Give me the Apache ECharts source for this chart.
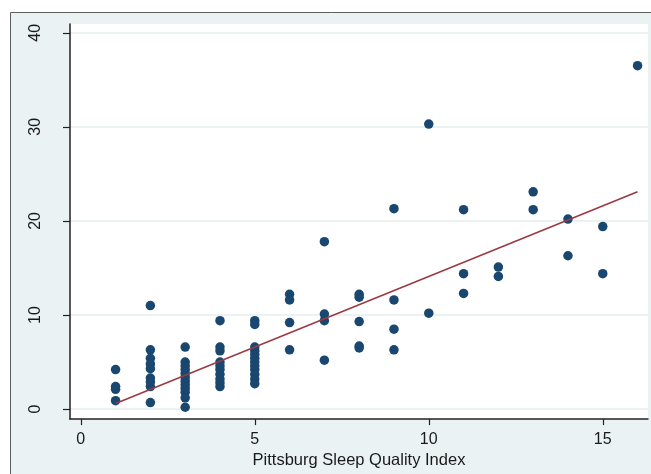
<!DOCTYPE html>
<html>
<head>
<meta charset="utf-8">
<script src="https://cdn.jsdelivr.net/npm/echarts@6/dist/echarts.min.js"></script>
<style>
html,body{margin:0;padding:0;background:#fff;}
#c{width:651px;height:474px;}
</style>
</head>
<body>
<div id="c"></div>
<script>
// PSQI score (x) and outcome (y) for each observed point
const pointsX = [
  1,1,1,1,
  2,2,2,2,2,2,2,2,2,
  3,3,3,3,3,3,3,3,3,3,3,3,
  4,4,4,4,4,4,4,4,4,4,
  5,5,5,5,5,5,5,5,5,5,5,5,
  6,6,6,6,
  7,7,7,7,
  8,8,8,8,8,
  9,9,9,9,
  10,10,
  11,11,11,
  12,12,
  13,13,
  14,14,
  15,15,
  16
];
const pointsY = [
  4.2,2.4,2.1,0.9,
  11.0,6.3,5.4,4.8,4.3,3.3,2.9,2.4,0.7,
  6.6,5.0,4.6,4.2,3.8,3.4,3.0,2.6,2.2,1.8,1.2,0.2,
  9.4,6.6,6.2,5.0,4.6,4.2,3.7,3.2,2.8,2.4,
  9.4,9.0,6.6,6.2,5.8,5.4,5.0,4.6,4.2,3.7,3.2,2.7,
  12.2,11.6,9.2,6.3,
  17.8,10.1,9.4,5.2,
  12.2,11.9,9.3,6.7,6.5,
  21.3,11.6,8.5,6.3,
  30.3,10.2,
  21.2,14.4,12.3,
  15.1,14.1,
  23.1,21.2,
  20.2,16.3,
  19.4,14.4,
  36.5
];
// fitted line endpoints
const fitX = [1, 16];
const fitY = [0.6, 23.1];
const xTicks = [0, 5, 10, 15];
const yTicks = [0, 10, 20, 30, 40];
const xTitle = 'Pittsburg Sleep Quality Index';

const scatterData = pointsX.map((x, i) => [x, pointsY[i]]);
const lineData = fitX.map((x, i) => [x, fitY[i]]);

const chart = echarts.init(document.getElementById('c'), null, {renderer: 'canvas'});
chart.setOption({
  backgroundColor: '#ffffff',
  animation: false,
  graphic: [{
    type: 'rect',
    z: -10,
    silent: true,
    shape: {x: 10.5, y: 12.5, width: 660, height: 480},
    style: {fill: '#eaf2f3', stroke: '#5e5e5e', lineWidth: 1}
  }],
  grid: {
    left: 70, right: 3, top: 24, bottom: 54,
    show: true, backgroundColor: '#ffffff', borderWidth: 0
  },
  xAxis: {
    type: 'value',
    min: -0.31, max: 16.3,
    interval: 5,
    name: xTitle,
    nameLocation: 'middle',
    nameGap: 30,
    nameTextStyle: {fontFamily: 'Liberation Sans', fontSize: 16.5, color: '#1a1a1a'},
    axisLine: {show: true, onZero: false, lineStyle: {color: '#222', width: 1.5}},
    axisTick: {show: true, length: 6, lineStyle: {color: '#222', width: 1.2},
      customValues: xTicks},
    axisLabel: {fontFamily: 'Liberation Sans', fontSize: 16, color: '#1a1a1a', margin: 12,
      customValues: xTicks},
    splitLine: {show: false}
  },
  yAxis: {
    type: 'value',
    min: -1.06, max: 40.93,
    name: '',
    axisLine: {show: true, onZero: false, lineStyle: {color: '#222', width: 1.5}},
    axisTick: {show: true, length: 7, lineStyle: {color: '#222', width: 1.2},
      customValues: yTicks},
    axisLabel: {fontFamily: 'Liberation Sans', fontSize: 16, color: '#1a1a1a', rotate: 90, margin: 26,
      customValues: yTicks},
    splitLine: {show: true, lineStyle: {color: '#e3eef1', width: 1.5},
      customValues: yTicks}
  },
  series: [
    {
      type: 'scatter',
      data: scatterData,
      symbol: 'circle',
      symbolSize: 9.5,
      itemStyle: {color: '#1a476f', opacity: 1},
      z: 3
    },
    {
      type: 'line',
      data: lineData,
      symbol: 'none',
      lineStyle: {color: '#9b3a42', width: 1.6},
      z: 4
    }
  ]
});
</script>
</body>
</html>
